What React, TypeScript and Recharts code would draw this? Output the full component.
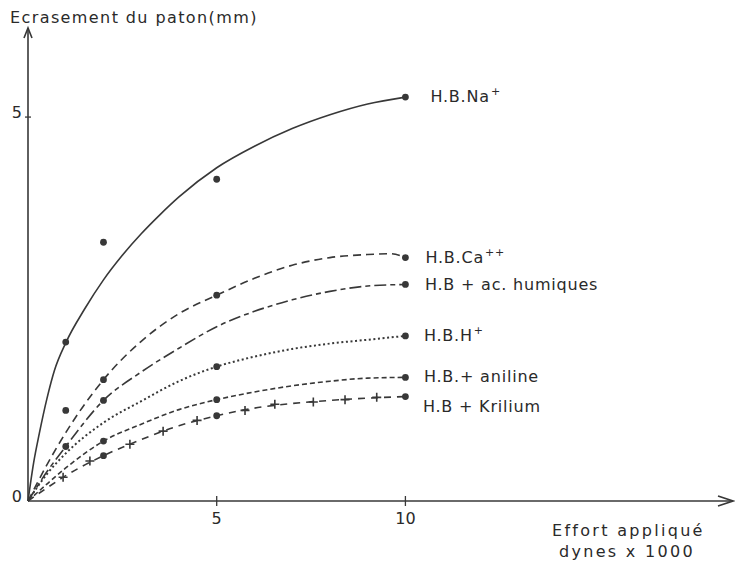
import React from 'react';
import { ComposedChart, Line, Scatter, XAxis, YAxis } from 'recharts';

// ---- data ----
const xTicks = [5, 10];
const yTicks = [0, 5];
const xAxisMax = 18.68;
const yAxisMax = 6.16;

const curveX = [0, 0.5, 1, 2, 3, 4, 5, 6, 7, 8, 9, 10];
const naCurveX = [0, 0.15, 0.3, 0.5, 0.7, 1, 1.5, 2, 2.5, 3, 3.5, 4, 5, 6, 7, 8, 9, 10];
const naCurveY = [0, 0.5, 0.88, 1.33, 1.7, 2.06, 2.5, 2.88, 3.2, 3.48, 3.73, 3.96, 4.34, 4.62, 4.85, 5.03, 5.17, 5.26];
const caCurveX = [0, 0.5, 1, 2, 3, 4, 5, 6, 7, 8, 9, 9.6, 10];
const caCurveY = [0, 0.47, 0.89, 1.58, 2.08, 2.44, 2.68, 2.9, 3.07, 3.17, 3.21, 3.22, 3.17];
const humCurveY = [0, 0.38, 0.71, 1.31, 1.68, 1.99, 2.27, 2.47, 2.62, 2.73, 2.8, 2.82];
const hCurveY = [0, 0.35, 0.62, 1.02, 1.3, 1.56, 1.75, 1.88, 1.98, 2.05, 2.1, 2.15];
const anilCurveY = [0, 0.22, 0.43, 0.78, 1.0, 1.19, 1.32, 1.42, 1.5, 1.56, 1.6, 1.61];
const krilCurveY = [0, 0.17, 0.33, 0.59, 0.8, 0.98, 1.11, 1.21, 1.27, 1.31, 1.34, 1.36];

const naDotX = [1, 2, 5, 10];
const naDotY = [2.07, 3.37, 4.19, 5.26];
const caDotX = [1, 2, 5, 10];
const caDotY = [1.18, 1.58, 2.68, 3.17];
const humDotX = [1, 2, 10];
const humDotY = [0.71, 1.31, 2.82];
const hDotX = [5, 10];
const hDotY = [1.75, 2.15];
const anilDotX = [2, 5, 10];
const anilDotY = [0.78, 1.32, 1.61];
const krilDotX = [2, 5, 10];
const krilDotY = [0.59, 1.11, 1.36];

const krilPlusX = [0.93, 1.64, 2.7, 3.58, 4.48, 5.75, 6.54, 7.56, 8.4, 9.24];
const krilPlusY = [0.31, 0.52, 0.74, 0.91, 1.05, 1.18, 1.26, 1.29, 1.32, 1.35];

const seriesNames = ['H.B.Na', 'H.B.Ca', 'H.B + ac. humiques', 'H.B.H', 'H.B.+ aniline', 'H.B + Krilium'];
const seriesSup = ['+', '++', '', '+', '', ''];

const yTitle = 'Ecrasement du paton(mm)';
const xTitle1 = 'Effort appliqué';
const xTitle2 = 'dynes x 1000';

// ---- helpers ----
const zip = (xs: number[], ys: number[]) => xs.map((x, i) => ({ x, y: ys[i] }));

const INK = '#383838';
const TEXT = '#2a2a2a';
const FONT = '"DejaVu Sans", sans-serif';

const series = [
  { curve: zip(naCurveX, naCurveY), dots: zip(naDotX, naDotY), dash: undefined, w: 1.6, dx: 25, dy: 4.5 },
  { curve: zip(caCurveX, caCurveY), dots: zip(caDotX, caDotY), dash: '8 5', w: 1.6, dx: 20, dy: 5 },
  { curve: zip(curveX, humCurveY), dots: zip(humDotX, humDotY), dash: '12 4 5 4', w: 1.6, dx: 19.5, dy: 5.7 },
  { curve: zip(curveX, hCurveY), dots: zip(hDotX, hDotY), dash: '2 2.6', w: 2, dx: 18.5, dy: 5.3 },
  { curve: zip(curveX, anilCurveY), dots: zip(anilDotX, anilDotY), dash: '5 3', w: 1.6, dx: 18.5, dy: 4.3 },
  { curve: zip(curveX, krilCurveY), dots: zip(krilDotX, krilDotY), dash: '7 6', w: 1.6, dx: 17.5, dy: 15.3 },
];

const plusData = zip(krilPlusX, krilPlusY);
const xArrow = [{ x: xAxisMax, y: 0 }];
const yArrow = [{ x: 0, y: yAxisMax }];

const makeDotShape = (idx: number) => (props: any) => {
  const { cx, cy, payload } = props;
  const s = series[idx];
  const last = payload && payload.x === 10;
  return (
    <g>
      <circle cx={cx} cy={cy} r={3.4} fill={INK} />
      {last && (
        <text
          x={cx + s.dx}
          y={cy + s.dy}
          fontFamily={FONT}
          fontSize={16}
          letterSpacing={0.8}
          fill={TEXT}
        >
          {seriesNames[idx]}
          {seriesSup[idx] && (
            <tspan fontSize={11} dy={-7} dx={1}>
              {seriesSup[idx]}
            </tspan>
          )}
        </text>
      )}
    </g>
  );
};

const PlusShape = (props: any) => {
  const { cx, cy } = props;
  return (
    <path
      d={`M${cx - 4.5},${cy} L${cx + 4.5},${cy} M${cx},${cy - 4.5} L${cx},${cy + 4.5}`}
      stroke={INK}
      strokeWidth={1.6}
      fill="none"
    />
  );
};

const XArrowShape = (props: any) => {
  const { cx, cy } = props;
  return (
    <path
      d={`M${cx - 15},${cy - 5} L${cx},${cy} L${cx - 15},${cy + 5}`}
      stroke={INK}
      strokeWidth={1.6}
      fill="none"
    />
  );
};

const YArrowShape = (props: any) => {
  const { cx, cy } = props;
  return (
    <path
      d={`M${cx - 4},${cy + 10} L${cx},${cy} L${cx + 4},${cy + 10}`}
      stroke={INK}
      strokeWidth={1.6}
      fill="none"
    />
  );
};

const XTick = (props: any) => {
  const { x, y, payload } = props;
  return (
    <g>
      <line x1={x} x2={x} y1={y - 5} y2={y + 5} stroke={INK} strokeWidth={1.3} />
      <text x={x} y={y + 23} textAnchor="middle" fontFamily={FONT} fontSize={16} fill={TEXT}>
        {payload.value}
      </text>
    </g>
  );
};

const YTick = (props: any) => {
  const { x, y, payload } = props;
  return (
    <g>
      {payload.value !== 0 && (
        <line x1={x - 3} x2={x + 3} y1={y} y2={y} stroke={INK} strokeWidth={1.3} />
      )}
      <text x={x - 6} y={y + 1} textAnchor="end" fontFamily={FONT} fontSize={16} fill={TEXT}>
        {payload.value}
      </text>
    </g>
  );
};

export default function App() {
  return (
    <div style={{ position: 'absolute', left: 0, top: 0, width: 735, height: 568, background: '#fff' }}>
      <ComposedChart
        width={735}
        height={568}
        margin={{ top: 28, right: 2, bottom: 37, left: 0 }}
      >
        <XAxis
          type="number"
          dataKey="x"
          domain={[0, xAxisMax]}
          ticks={xTicks}
          height={30}
          tickSize={0}
          tickMargin={0}
          tick={<XTick />}
          axisLine={{ stroke: INK, strokeWidth: 1.6 }}
          tickLine={false}
        />
        <YAxis
          type="number"
          dataKey="y"
          domain={[0, yAxisMax]}
          ticks={yTicks}
          width={28}
          tickSize={0}
          tickMargin={0}
          tick={<YTick />}
          axisLine={{ stroke: INK, strokeWidth: 1.6 }}
          tickLine={false}
        />
        {series.map((s, i) => (
          <Line
            key={'l' + i}
            data={s.curve}
            dataKey="y"
            type="monotone"
            stroke={INK}
            strokeWidth={s.w}
            strokeDasharray={s.dash}
            dot={false}
            activeDot={false}
            isAnimationActive={false}
          />
        ))}
        {series.map((s, i) => (
          <Scatter
            key={'d' + i}
            data={s.dots}
            dataKey="y"
            shape={makeDotShape(i)}
            isAnimationActive={false}
          />
        ))}
        <Scatter data={plusData} dataKey="y" shape={<PlusShape />} isAnimationActive={false} />
        <Scatter data={xArrow} dataKey="y" shape={<XArrowShape />} isAnimationActive={false} />
        <Scatter data={yArrow} dataKey="y" shape={<YArrowShape />} isAnimationActive={false} />
        <text x={10} y={23} fontFamily={FONT} fontSize={16} letterSpacing={1.4} fill={TEXT}>
          {yTitle}
        </text>
        <text x={552} y={536} fontFamily={FONT} fontSize={16} letterSpacing={2.3} fill={TEXT}>
          {xTitle1}
        </text>
        <text x={559} y={557} fontFamily={FONT} fontSize={16} letterSpacing={2.3} fill={TEXT}>
          {xTitle2}
        </text>
      </ComposedChart>
    </div>
  );
}
